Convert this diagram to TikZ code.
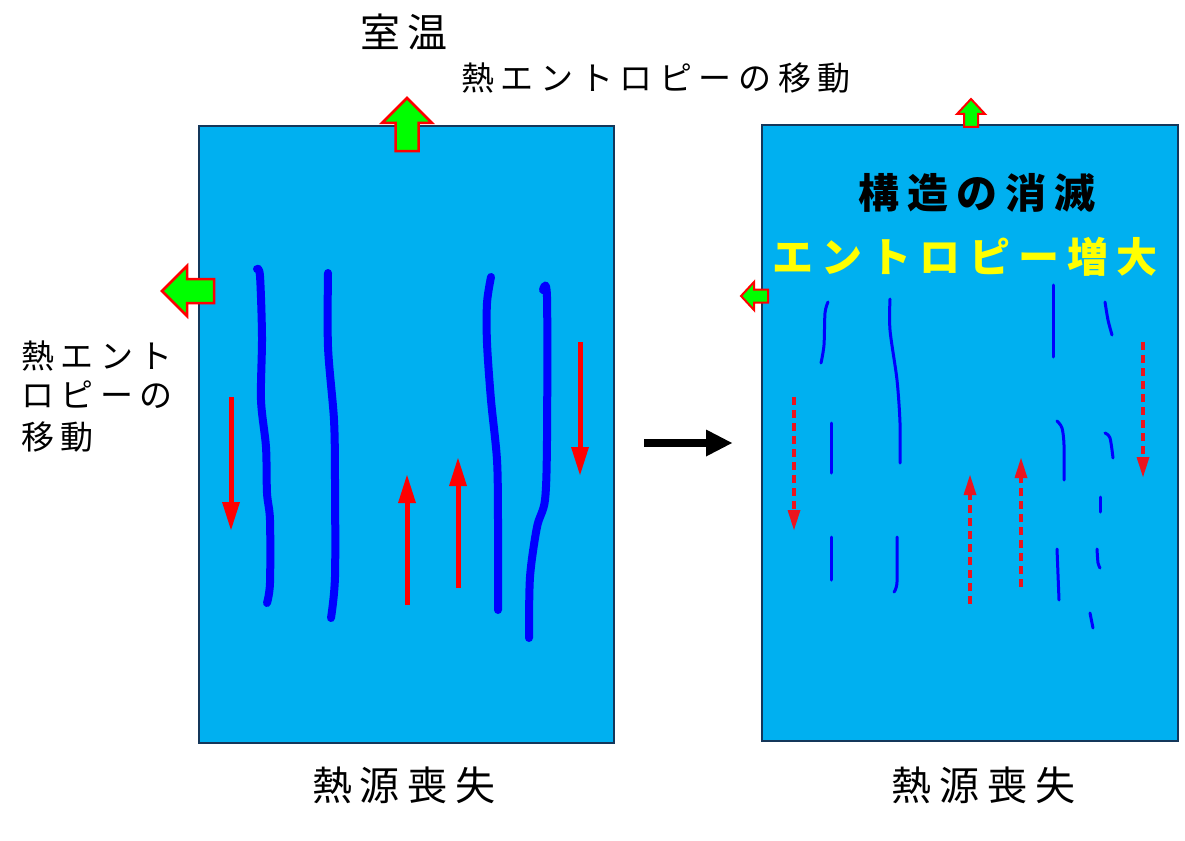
\documentclass[tikz,border=0pt]{standalone}
\usepackage{fontspec}
\usetikzlibrary{arrows.meta}
\newfontfamily\jp{Noto Sans CJK JP}
\newlength\lsamt
\def\lspaced#1{\lspacedB#1\relax\unkern}
\def\lspacedB#1{\ifx\relax#1\else#1\kern\lsamt\expandafter\lspacedB\fi}
\newcommand\jtxt[2]{\fontsize{#1}{#1}\selectfont\setlength\lsamt{0.2em}\lspaced{#2}}
\definecolor{panelblue}{RGB}{0,176,240}
\definecolor{navy}{RGB}{20,55,90}
\definecolor{lgreen}{RGB}{0,255,0}
\definecolor{lblue}{RGB}{0,0,255}
\definecolor{lred}{RGB}{255,0,0}
\definecolor{dred}{RGB}{235,20,30}
\definecolor{lyellow}{RGB}{255,255,0}
\begin{document}
\begin{tikzpicture}[x=1pt,y=-1pt,
  panel/.style={draw=navy, line width=2pt, fill=panelblue, inner sep=0pt, outer sep=0pt},
  blockarr/.style={fill=lgreen, draw=lred, line width=2.5pt, line join=miter},
  thickline/.style={draw=lblue, line width=8pt, line cap=round, line join=round},
  thinline/.style={draw=lblue, line width=3pt, line cap=round, line join=round},
  redarr/.style={draw=lred, line width=5pt, -{Triangle[length=28pt,width=18pt,line width=0pt]}},
  dasharr/.style={draw=dred, line width=3.8pt, dash pattern=on 8pt off 5pt, -{Triangle[length=20pt,width=13pt,line width=0pt]}},
  blackarr/.style={draw=black, line width=8pt, -{Triangle[length=26pt,width=27pt,line width=0pt]}},
  txt/.style={inner sep=0pt, outer sep=0pt, font=\jp}
]
\useasboundingbox[fill=white] (0,0) rectangle (1185,840);

% panels
\node[panel, minimum width=415pt, minimum height=617pt] (P1) at (406.5,434.5) {};
\node[panel, minimum width=416pt, minimum height=616pt] (P2) at (970,433) {};

% block arrows (left panel)
\draw[blockarr] (407,98) -- (432,123) -- (418.5,123) -- (418.5,151) -- (395.5,151) -- (395.5,123) -- (382,123) -- cycle;
\draw[blockarr] (162,291) -- (187,266) -- (187,279) -- (214,279) -- (214,303) -- (187,303) -- (187,316) -- cycle;
% block arrows (right panel, small)
\draw[blockarr, line width=2pt] (971,99) -- (985,114) -- (978,114) -- (978,127) -- (964,127) -- (964,114) -- (957,114) -- cycle;
\draw[blockarr, line width=2pt] (741,296) -- (754,282) -- (754,289.5) -- (768,289.5) -- (768,302.5) -- (754,302.5) -- (754,310) -- cycle;

% left panel: thick blue lines
\draw[thickline] plot[smooth, tension=0.5] coordinates {(257,269) (260,276) (262,337) (261,400) (266,447) (267,493) (270,520) (270,583) (267,603)};
\draw[thickline] plot[smooth, tension=0.5] coordinates {(328,273) (328,347) (334,420) (335,480) (335,577) (331,618)};
\draw[thickline] plot[smooth, tension=0.5] coordinates {(491,277) (487,303) (487,343) (491,400) (497,460) (498,520) (498,610)};
\draw[thickline] plot[smooth, tension=0.5] coordinates {(543,290) (547,297) (547,440) (545,500) (537,527) (530,577) (529,638)};

% left panel: red arrows
\draw[redarr] (231,397) -- (231,530);
\draw[redarr] (407,605) -- (407,475);
\draw[redarr] (458,588) -- (458,458);
\draw[redarr] (580,342) -- (580,475);

% right panel: thin blue fragments
\draw[thinline] plot[smooth, tension=0.5] coordinates {(828,302) (825,313) (824,345) (821,363)};
\draw[thinline] plot[smooth, tension=0.5] coordinates {(890,299) (890,330) (897,380) (900,423) (900,463)};
\draw[thinline] (1053,285) -- (1053,357);
\draw[thinline] plot[smooth, tension=0.5] coordinates {(1105,302) (1108,320) (1112,335)};
\draw[thinline] (831,423) -- (831,473);
\draw[thinline] plot[smooth, tension=0.5] coordinates {(1057,421) (1062,428) (1064,445) (1064,480)};
\draw[thinline] plot[smooth, tension=0.5] coordinates {(1105,433) (1110,438) (1113,458)};
\draw[thinline] (1100,497) -- (1100,512);
\draw[thinline] (831,537) -- (831,580);
\draw[thinline] plot[smooth, tension=0.5] coordinates {(897,537) (897,582) (894,592)};
\draw[thinline] (1057,549) -- (1059,600);
\draw[thinline] plot[smooth, tension=0.5] coordinates {(1097,549) (1098,563) (1100,568)};
\draw[thinline] (1090,613) -- (1093,628);

% right panel: dashed red arrows
\draw[dasharr] (794,397) -- (794,530);
\draw[dasharr] (970,604) -- (970,475);
\draw[dasharr] (1021,587) -- (1021,458);
\draw[dasharr] (1143,342) -- (1143,477);

% black arrow between panels
\coordinate (b1) at (644,443);
\coordinate (b2) at (732,443);
\draw[blackarr] (b1) -- (b2);

% texts
\node[txt] (room) at (404,32) {\jtxt{40}{室温}};
\node[txt] (flowT) at (656,78) {\jtxt{33}{熱エントロピーの移動}};
\node[txt, anchor=west] (flowL1) at (21,356) {\jtxt{33}{熱エント}};
\node[txt, anchor=west] (flowL2) at (21,395) {\jtxt{33}{ロピーの}};
\node[txt, anchor=west] (flowL3) at (21,437) {\jtxt{33}{移動}};
\node[txt] (loss1) at (404,785) {\jtxt{40}{熱源喪失}};
\node[txt] (loss2) at (983.5,785) {\jtxt{40}{熱源喪失}};
\node[txt, font=\jp\bfseries] (struct) at (977,193) {\jtxt{41}{構造の消滅}};
\node[txt, font=\jp\bfseries, text=lyellow] (ent) at (965,257) {\jtxt{41}{エントロピー増大}};
\end{tikzpicture}
\end{document}
